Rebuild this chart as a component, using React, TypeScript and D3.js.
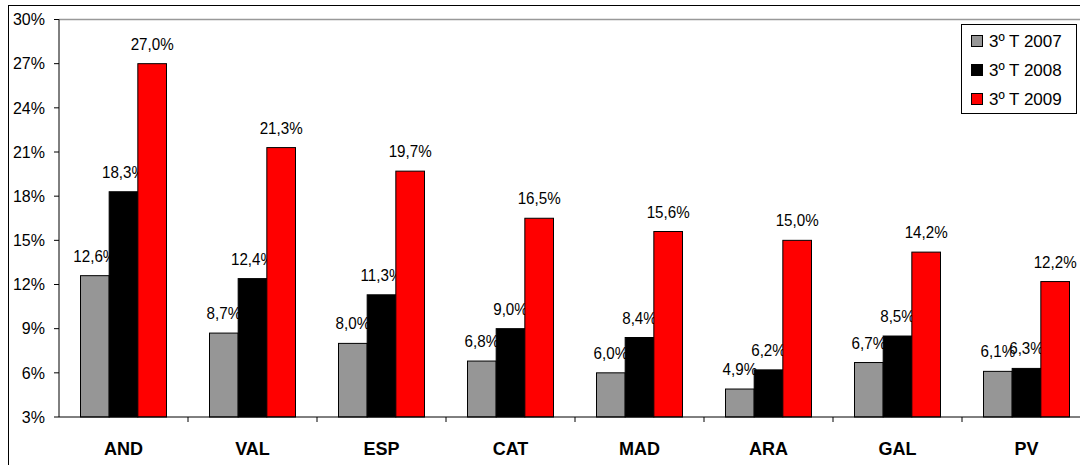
import React from "react";
import * as d3 from "d3";

const categories = ["AND", "VAL", "ESP", "CAT", "MAD", "ARA", "GAL", "PV"];
const seriesNames = ["3º T 2007", "3º T 2008", "3º T 2009"];
const s2007 = [12.6, 8.7, 8.0, 6.8, 6.0, 4.9, 6.7, 6.1];
const s2008 = [18.3, 12.4, 11.3, 9.0, 8.4, 6.2, 8.5, 6.3];
const s2009 = [27.0, 21.3, 19.7, 16.5, 15.6, 15.0, 14.2, 12.2];
const yTicks = [3, 6, 9, 12, 15, 18, 21, 24, 27, 30];
const colors = ["#969696", "#000000", "#ff0000"];

const font = "'Liberation Sans', Arial, sans-serif";

export default function App() {
  const W = 1080, H = 465;
  const left = 59, right = 1091, top = 19.5, bottom = 417;
  const y = d3.scaleLinear().domain([3, 30]).range([bottom, top]);
  const x0 = d3.scaleBand<string>().domain(categories).range([left, right]).paddingInner(0).paddingOuter(0);
  const x1 = d3.scaleBand<string>().domain(seriesNames).range([0, x0.bandwidth()]).paddingInner(0).paddingOuter(0.75);
  const data = [s2007, s2008, s2009];
  const fmt = (v: number) => v.toFixed(1).replace(".", ",") + "%";

  return (
    <svg width={W} height={H} style={{ position: "absolute", left: 0, top: 0, background: "#fff" }} fontFamily={font}>
      <rect x={0} y={0} width={W} height={H} fill="#fff" />
      {/* outer chart border */}
      <rect x={8.5} y={5.5} width={1200} height={600} fill="none" stroke="#000" strokeWidth={1} />
      {/* plot area border (gray) */}
      <line x1={left} x2={right} y1={top} y2={top} stroke="#999" strokeWidth={1.5} />
      {/* y axis */}
      <line x1={left} x2={left} y1={top} y2={bottom} stroke="#000" strokeWidth={1} />
      {yTicks.map((t) => (
        <g key={t}>
          <line x1={left - 5} x2={left} y1={y(t)} y2={y(t)} stroke="#000" />
          <text x={45} y={y(t)} dy="0.36em" textAnchor="end" fontSize={16} fill="#000">
            {t}%
          </text>
        </g>
      ))}
      {/* series bars + labels, drawn per series */}
      {data.map((vals, si) => (
        <g key={si}>
          {vals.map((v, ci) => {
            const bx = (x0(categories[ci]) as number) + (x1(seriesNames[si]) as number);
            return (
              <rect
                key={ci}
                x={bx}
                y={y(v)}
                width={x1.bandwidth()}
                height={bottom - y(v)}
                fill={colors[si]}
                stroke="#000"
                strokeWidth={1}
              />
            );
          })}
          {vals.map((v, ci) => {
            const bx = (x0(categories[ci]) as number) + (x1(seriesNames[si]) as number) + x1.bandwidth() / 2;
            return (
              <g key={"l" + ci} transform={`translate(${bx},${y(v) - 14}) scale(0.92,1)`}>
                <text x={0} y={0} textAnchor="middle" fontSize={16.5} fill="#000">
                  {fmt(v)}
                </text>
              </g>
            );
          })}
        </g>
      ))}
      {/* x axis */}
      <line x1={left} x2={right} y1={bottom} y2={bottom} stroke="#000" strokeWidth={1} />
      {categories.map((c, i) => (
        <g key={c}>
          {i > 0 && (
            <line x1={x0(c) as number} x2={x0(c) as number} y1={bottom} y2={bottom + 5} stroke="#000" />
          )}
          <text
            x={(x0(c) as number) + x0.bandwidth() / 2}
            y={455}
            textAnchor="middle"
            fontSize={18}
            fontWeight="bold"
            fill="#000"
          >
            {c}
          </text>
        </g>
      ))}
      {/* legend */}
      <rect x={961.5} y={24.5} width={115} height={89} fill="#fff" stroke="#000" strokeWidth={1} />
      {seriesNames.map((s, i) => {
        const cy = 41 + i * 29;
        return (
          <g key={s}>
            <rect x={971.5} y={cy - 5.5} width={11} height={11} fill={colors[i]} stroke="#000" strokeWidth={1} />
            <text x={989} y={cy} dy="0.36em" fontSize={17} fill="#000">
              {s}
            </text>
          </g>
        );
      })}
    </svg>
  );
}
